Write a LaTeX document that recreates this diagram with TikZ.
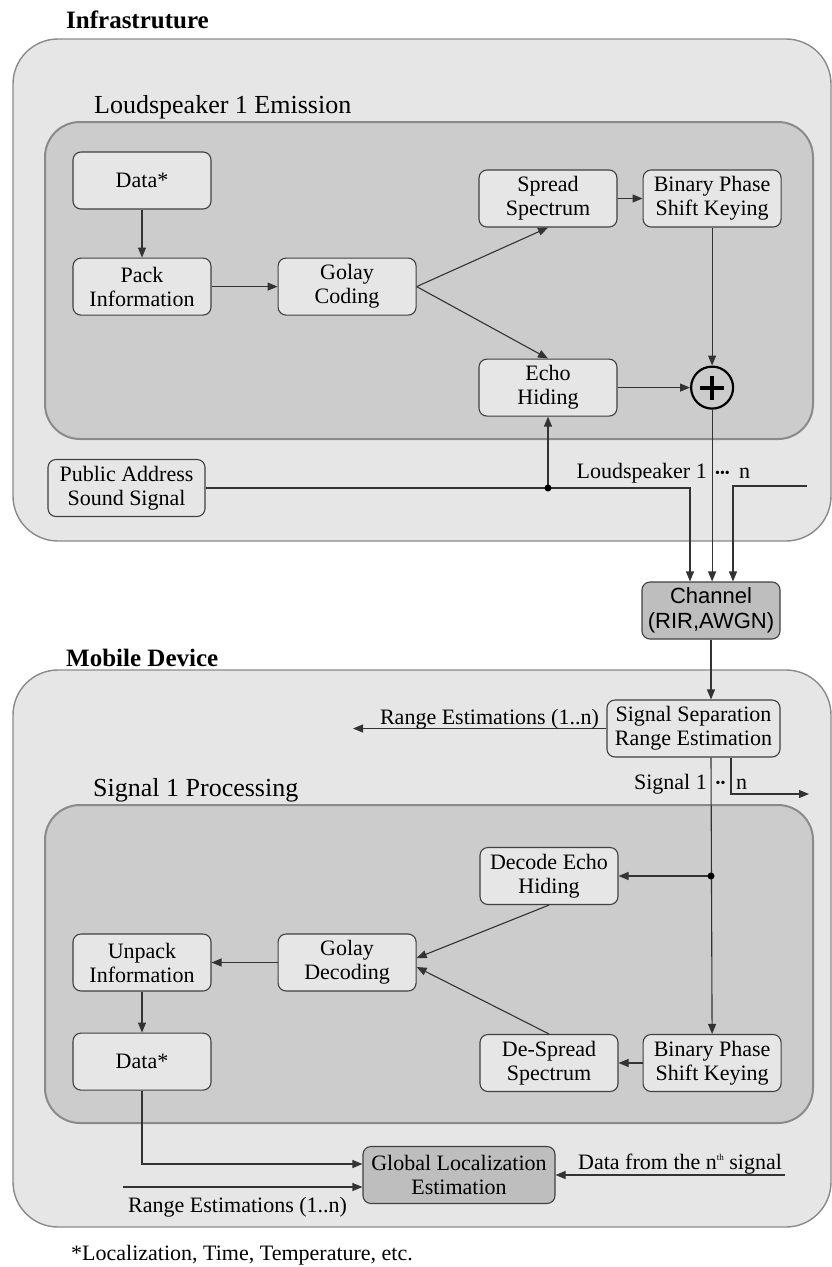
\documentclass[tikz,border=0pt]{standalone}
\usepackage{fontspec}
\setmainfont{Liberation Serif}
\newfontfamily\chanfont{Liberation Sans}
\usetikzlibrary{arrows.meta,positioning}

\definecolor{outergray}{HTML}{E6E6E6}
\definecolor{innergray}{HTML}{CCCCCC}
\definecolor{boxgray}{HTML}{E6E6E6}
\definecolor{darkbox}{HTML}{BEBEBE}
\definecolor{rimgray}{HTML}{8A8A8A}

\begin{document}
\begin{tikzpicture}[x=1pt,y=-1pt,node distance=48pt,>={Triangle[length=10pt,width=8pt]}]
\tikzset{
  panel/.style={draw=rimgray,line width=1.4pt,rounded corners=45pt,fill=outergray},
  subpanel/.style={draw=rimgray,line width=2pt,rounded corners=35pt,fill=innergray},
  blk/.style={draw=black!75,line width=1.1pt,fill=boxgray,rounded corners=8pt,minimum width=138pt,minimum height=57pt,inner sep=0pt,align=center,font=\fontsize{22}{24}\selectfont},
  dblk/.style={blk,fill=darkbox},
  lbl/.style={inner sep=0pt,font=\fontsize{22}{24}\selectfont},
  ttl/.style={inner sep=0pt,anchor=base west,font=\fontsize{26}{28}\selectfont},
  hdr/.style={inner sep=0pt,anchor=base west,font=\fontsize{25}{28}\selectfont\bfseries},
  dots/.style={inner sep=0pt,font=\fontsize{14}{14}\selectfont},
  wire/.style={line width=1.1pt,draw=black!80},
  arr/.style={wire,->}
}
\useasboundingbox (0,0) rectangle (832,1267);

% infrastructure side
\draw[panel] (13,39) rectangle (831,541);
\node[hdr] (infra) at (66,28) {Infrastruture};
\draw[subpanel] (45,122) rectangle (813,439);
\node[ttl] (emis) at (94,113) {Loudspeaker 1 Emission};

\node[blk] (data) at (142,180.5) {Data*};
\node[blk,below=of data] (pack) {Pack\\Information};
\node[blk,right=66pt of pack] (golay) {Golay\\Coding};
\node[blk] (spread) at (548,198.5) {Spread\\Spectrum};
\node[blk,right=25pt of spread] (bpsk) {Binary Phase\\Shift Keying};
\node[blk,below=131pt of spread] (echo) {Echo\\Hiding};
\node[circle,draw,line width=2.2pt,minimum size=42pt,inner sep=0pt] (sum) at (bpsk.south |- echo.east) {};
\draw[line width=4pt] ([xshift=-12pt]sum.center) -- ([xshift=12pt]sum.center)
  ([yshift=-12pt]sum.center) -- ([yshift=12pt]sum.center);
\node[blk,minimum width=157pt] (pa) at (126.5,488) {Public Address\\Sound Signal};

\draw[arr] (data) -- (pack);
\draw[arr] (pack) -- (golay);
\draw[arr] (golay.east) -- (spread.south);
\draw[arr] (golay.east) -- (echo.north);
\draw[arr] (spread) -- (bpsk);
\draw[arr] (bpsk) -- (sum);
\draw[arr] (echo) -- (sum);

% channel
\node[dblk,font=\chanfont\fontsize{22}{25}\selectfont] (chan) at (711,610.5) {Channel\\(RIR,AWGN)};
\coordinate (split) at (echo.south |- pa.east);
\coordinate (lsn) at (807,486);
\draw[arr] (pa.east) -| ([xshift=-21pt]chan.north);
\draw[arr] (sum) -- (sum |- chan.north);
\draw[arr] (lsn) -| ([xshift=22pt]chan.north);
\draw[arr] (split) -- (echo.south);
\fill (split) circle (3.5pt);
\node[lbl,anchor=base east] (lsp) at (707,478) {Loudspeaker 1};
\node[dots] (lspdots) at (722.5,474) {\textbullet\textbullet\textbullet};
\node[lbl,anchor=base west] (lspn) at (739,478) {n};

% mobile side
\draw[panel] (13,670) rectangle (831,1227);
\node[hdr] (mob) at (66,666) {Mobile Device};
\node[blk,minimum width=173pt] (sep) at (693.5,728.5) {Signal Separation\\Range Estimation};
\draw[subpanel] (45,805) rectangle (813,1123);
\node[ttl] (proc) at (93,796) {Signal 1 Processing};

\node[blk] (dec) at (549,876) {Decode Echo\\Hiding};
\node[blk] (unpack) at (142,962.5) {Unpack\\Information};
\node[blk,right=66pt of unpack] (golayd) {Golay\\Decoding};
\node[blk,below=41pt of unpack] (data2) {Data*};
\node[blk] (desp) at (549,1063) {De-Spread\\Spectrum};
\node[blk,right=24pt of desp] (bpsk2) {Binary Phase\\Shift Keying};
\node[dblk,minimum width=192pt] (glob) at (459,1175) {Global Localization\\Estimation};

\draw[arr] (chan) -- (chan |- sep.north);
\coordinate (rangeout) at (353,728.5);
\draw[arr] (sep.west) -- (rangeout);
\node[lbl,anchor=base east] (rangelbl) at (599,724) {Range Estimations (1..n)};
\draw[arr] (chan.south |- sep.south) -- (bpsk2.north);
\coordinate (tap) at (chan.south |- dec.east);
\draw[arr] (tap) -- (dec.east);
\fill (tap) circle (3.5pt);
\coordinate (sigout) at (809,794);
\draw[arr] ([xshift=20pt]chan.south |- sep.south) |- (sigout);
\node[lbl,anchor=base east] (sig) at (707,789) {Signal 1};
\node[dots] (sigdots) at (720.5,784) {\textbullet\textbullet};
\node[lbl,anchor=base west] (sign) at (736,789) {n};

\draw[arr] (dec.south) -- ([yshift=4.5pt]golayd.east);
\draw[arr] (desp.north) -- ([yshift=-4.5pt]golayd.east);
\draw[arr] (bpsk2) -- (desp);
\draw[arr] (golayd) -- (unpack);
\draw[arr] (unpack) -- (data2);
\draw[arr] (data2.south) |- ([yshift=11pt]glob.west);
\coordinate (rangein) at (123,1187);
\draw[arr] (rangein) -- (rangein -| glob.west);
\node[lbl,anchor=base west] (rangelbl2) at (128,1212) {Range Estimations (1..n)};
\coordinate (nthin) at (785,1175);
\draw[arr] (nthin) -- (glob.east);
\node[lbl,anchor=base west] (nthlbl) at (578,1169) {Data from the n\raisebox{9pt}{\fontsize{9}{9}\selectfont th} signal};

\node[lbl,anchor=base west] (note) at (71,1260) {*Localization, Time, Temperature, etc.};
\end{tikzpicture}
\end{document}
